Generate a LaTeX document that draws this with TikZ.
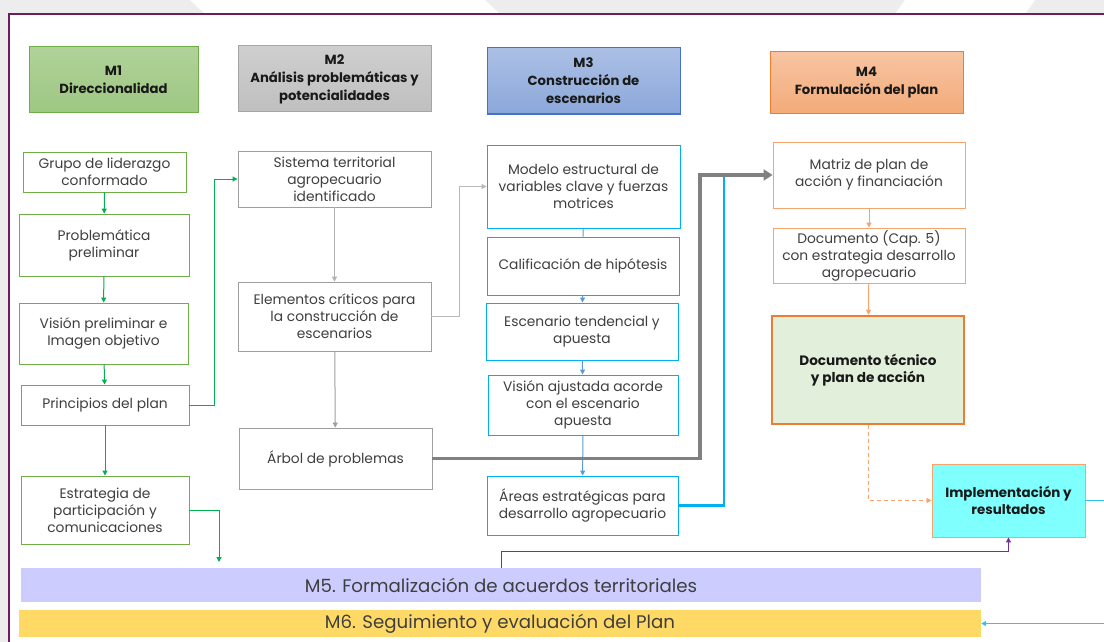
\documentclass[tikz,border=0pt]{standalone}
\usepackage{fontspec}
\setmainfont{Poppins}
\usetikzlibrary{arrows.meta}
\definecolor{verde}{HTML}{70AD47}
\definecolor{verdeflecha}{HTML}{00B050}
\definecolor{gris}{HTML}{A5A5A5}
\definecolor{azul}{HTML}{4472C4}
\definecolor{azulclaro}{HTML}{5B9BD5}
\definecolor{celeste}{HTML}{00B0F0}
\definecolor{naranja}{HTML}{ED7D31}
\definecolor{naranjaclaro}{HTML}{F4A46C}
\definecolor{morado}{HTML}{7030A0}
\definecolor{lila}{HTML}{CCCCFF}
\definecolor{oro}{HTML}{FFD966}
\definecolor{marco}{HTML}{6B1D5C}
\definecolor{texto}{HTML}{3F3F3F}
\definecolor{verdepalido}{HTML}{E2EFDA}
\definecolor{cian}{HTML}{80FFFF}
\begin{document}
\begin{tikzpicture}[x=1pt, y=-1pt, >={Triangle[length=5pt,width=5pt]},
    caja/.style={draw, align=center, inner sep=1pt, line width=0.9,
        text=texto, font=\fontsize{13.8}{17}\selectfont},
    titulo/.style={draw, align=center, inner sep=1pt, line width=1,
        text=black!90, font=\bfseries\fontsize{13.2}{18}\selectfont},
    barra/.style={inner sep=0pt, text=texto, font=\fontsize{18.2}{20}\selectfont}]
    \useasboundingbox (0, 0) rectangle (1104, 642);
    % fondo y marco
    \fill[gray!14] (0, 0) rectangle (1104, 642);
    \fill[white] (190, 0) -- (485, 0) -- (500, 14) -- (205, 14) -- cycle;
    \fill[white] (905, 0) -- (1035, 0) -- (1025, 14) -- (895, 14) -- cycle;
    \fill[white] (8.7, 14) rectangle (1104, 642);
    \draw[marco, line width=1.8] (8.7, 642) -- (8.7, 14) -- (1104, 14);

    % titulos
    \node[titulo, draw=verde, top color=verde!55, bottom color=verde!68,
        minimum width=169, minimum height=66] (m1) at (113.5, 80)
        {M1\\Direccionalidad};
    \node[titulo, draw=gris, top color=gray!38, bottom color=gray!50,
        minimum width=193, minimum height=66] (m2) at (334.5, 79)
        {M2\\Análisis problemáticas y\\potencialidades};
    \node[titulo, draw=azul, top color=azul!45, bottom color=azul!62,
        minimum width=193, minimum height=66] (m3) at (583.5, 81)
        {M3\\Construcción de\\escenarios};
    \node[titulo, draw=naranja, top color=naranja!45, bottom color=naranja!65,
        minimum width=193, minimum height=62] (m4) at (866.5, 82.5)
        {M4\\Formulación del plan};

    % M1
    \node[caja, draw=verde, minimum width=163, minimum height=40] (g1)
        at (104.5, 172) {Grupo de liderazgo\\conformado};
    \node[caja, draw=verde, minimum width=170, minimum height=62] (g2)
        at (104, 245) {Problemática\\preliminar};
    \node[caja, draw=verde, minimum width=169, minimum height=61] (g3)
        at (103.5, 333.5) {Visión preliminar e\\Imagen objetivo};
    \node[caja, draw=verde, minimum width=168, minimum height=40] (g4)
        at (105, 405) {Principios del plan};
    \node[caja, draw=verde, minimum width=168, minimum height=68] (g5)
        at (105, 510) {Estrategia de\\participación y\\comunicaciones};

    % M2
    \node[caja, draw=gray!75, minimum width=193, minimum height=56] (s1)
        at (334.5, 179) {Sistema territorial\\agropecuario\\identificado};
    \node[caja, draw=gray!75, minimum width=193, minimum height=69] (s2)
        at (334.5, 316.5)
        {Elementos críticos para\\la construcción de\\escenarios};
    \node[caja, draw=gray!75, minimum width=193, minimum height=61] (s3)
        at (335.5, 458.5) {Árbol de problemas};

    % M3
    \node[caja, draw=celeste, minimum width=193, minimum height=83] (b1)
        at (583.5, 186.5)
        {Modelo estructural de\\variables clave y fuerzas\\motrices};
    \node[caja, draw=celeste, minimum width=192, minimum height=58] (b2)
        at (583, 266) {Calificación de hipótesis};
    \node[caja, draw=celeste, minimum width=192, minimum height=57] (b3)
        at (582, 331.5) {Escenario tendencial y\\apuesta};
    \node[caja, draw=celeste, minimum width=190, minimum height=60] (b4)
        at (583, 405) {Visión ajustada acorde\\con el escenario\\apuesta};
    \node[caja, draw=celeste, minimum width=191, minimum height=59] (b5)
        at (582.5, 505.5) {Áreas estratégicas para\\desarrollo agropecuario};

    % M4
    \node[caja, draw=naranjaclaro, minimum width=192, minimum height=66] (o1)
        at (869, 175) {Matriz de plan de\\acción y financiación};
    \node[caja, draw=naranjaclaro, minimum width=192, minimum height=55] (o2)
        at (869, 255.5)
        {Documento (Cap. 5)\\con estrategia desarrollo\\agropecuario};
    \node[caja, draw=naranja, fill=verdepalido, line width=2.5,
        minimum width=192, minimum height=108, text=black!90,
        font=\bfseries\fontsize{13.6}{17}\selectfont] (o3)
        at (868, 370) {Documento técnico\\y plan de acción};
    \node[caja, draw=naranjaclaro, fill=cian, minimum width=153,
        minimum height=73, text=black!90,
        font=\bfseries\fontsize{13.4}{17}\selectfont] (imp)
        at (1008.5, 500.5) {Implementación y\\resultados};

    % barras M5 y M6
    \node[barra, fill=lila, minimum width=960, minimum height=34] (m5)
        at (501, 585) {M5. Formalización de acuerdos territoriales};
    \node[barra, fill=oro, minimum width=962, minimum height=27] (m6)
        at (500, 623.5) {M6. Seguimiento y evaluación del Plan};

    \coordinate (m5in) at (219, 562);
    \coordinate (giro1) at (700, 175);
    \coordinate (giro2) at (724, 175);

    % conectores M1
    \draw[->, verdeflecha, line width=1] (g1) -- (g2);
    \draw[->, verdeflecha, line width=1] (g2) -- (g3);
    \draw[->, verdeflecha, line width=1] (g3) -- (g4);
    \draw[->, verdeflecha, line width=1] (g4) -- (g5);
    \draw[->, verdeflecha, line width=1] (g4.east) -- ++(25, 0) |- (s1.west);
    \draw[->, verdeflecha, line width=1] (g5.east) -| (m5in);

    % conectores M2
    \draw[->, gray!60, line width=1] (s1) -- (s2);
    \draw[->, gray!75, line width=1] (s2) -- (s3);
    \draw[->, gray!55, line width=1.2] (s2.east) -- ++(28, 0) |- (b1.west);

    % conectores M3
    \draw[azulclaro, line width=1] (b1) -- (b2);
    \draw[->, azulclaro, line width=1] (b2) -- (b3);
    \draw[->, azulclaro, line width=1] (b3) -- (b4);
    \draw[->, azulclaro, line width=1] (b4) -- (b5);
    \draw[celeste, line width=2.5] (b5.east) -| (giro2);
    \draw[->, gray, line width=3.5, >={Triangle[length=9pt,width=11pt]}]
        (s3.east) -| (giro1) -- (o1.west);

    % conectores M4
    \draw[->, naranjaclaro, line width=1] (o1) -- (o2);
    \draw[->, naranjaclaro, line width=1] (o2) -- (o3);
    \draw[->, naranjaclaro, line width=1, dash pattern=on 4pt off 3pt]
        (o3.south) |- (imp.west);
    \draw[->, morado, line width=1] (m5.north) -- ++(0, -16) -| (imp.south);
    \draw[->, celeste!80, line width=1.2] (imp.east) -- ++(40, 0)
        |- (m6.east);
\end{tikzpicture}
\end{document}
